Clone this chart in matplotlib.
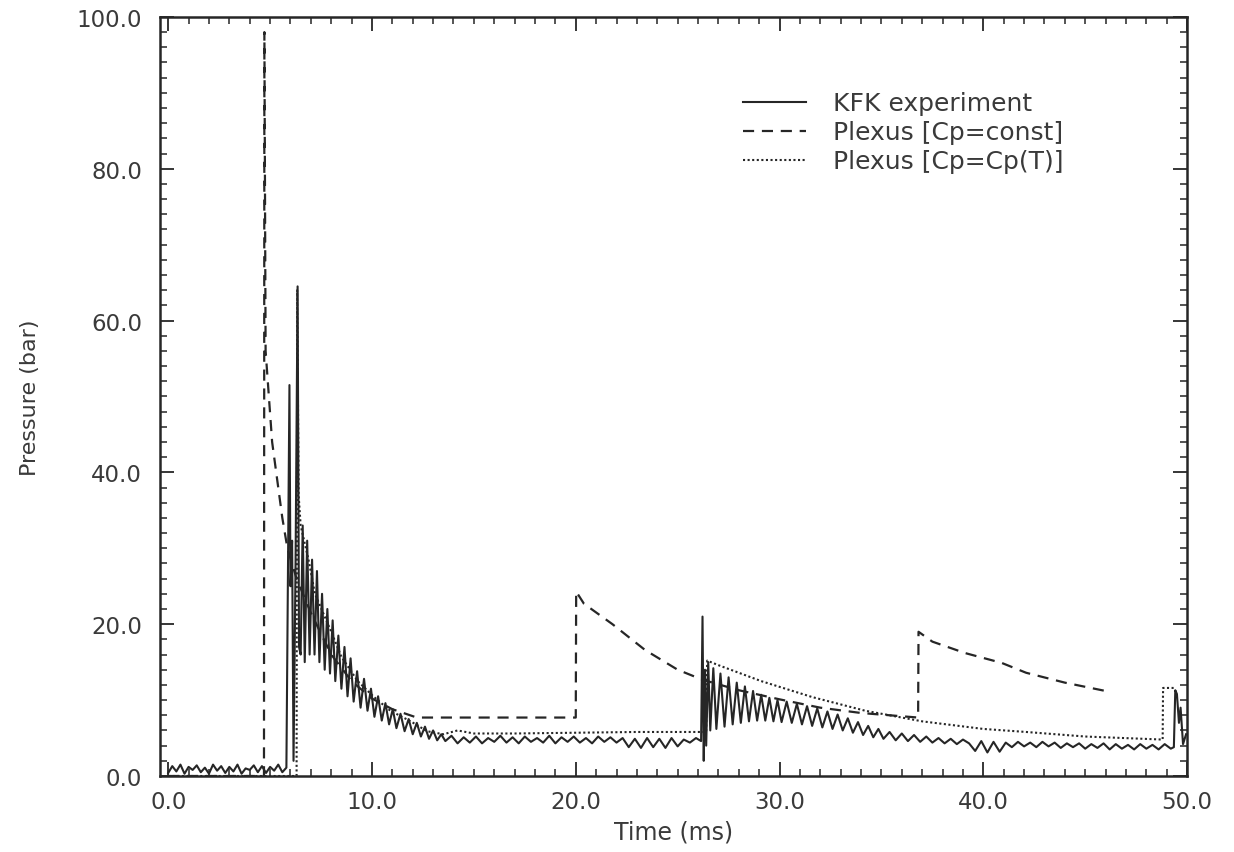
import matplotlib
matplotlib.use("Agg")
import matplotlib.pyplot as plt
from matplotlib.ticker import MultipleLocator, FormatStrFormatter

plt.rcParams["font.family"] = ["DejaVu Sans"]

INK = "#262626"

# ---------------------------------------------------------------
# KFK experiment (measured pressure, bar) vs time (ms)
# ---------------------------------------------------------------
kfk_t = [0.0, 0.2, 0.4, 0.6, 0.8, 1.0, 1.2, 1.4, 1.6, 1.8, 2.0, 2.2, 2.4, 2.6, 2.8,
         3.0, 3.2, 3.4, 3.6, 3.8, 4.0, 4.2, 4.4, 4.6, 4.8, 5.0, 5.2, 5.4, 5.6, 5.8,
         5.95, 6.0, 6.08, 6.15, 6.25, 6.35, 6.42,
         6.5, 6.6, 6.7, 6.82, 6.94, 7.06, 7.18, 7.3, 7.42, 7.55, 7.68, 7.81, 7.94,
         8.07, 8.2, 8.35, 8.5, 8.65, 8.8, 8.95, 9.1, 9.27, 9.44, 9.61, 9.78, 9.95,
         10.12, 10.3, 10.48, 10.66, 10.84, 11.02, 11.2, 11.4, 11.6, 11.8, 12.0,
         12.2, 12.4, 12.6, 12.8, 13.0, 13.2, 13.4,
         13.6, 13.9, 14.2, 14.5, 14.8, 15.1, 15.4, 15.7, 16.0, 16.3, 16.6, 16.9,
         17.2, 17.5, 17.8, 18.1, 18.4, 18.7, 19.0, 19.3, 19.6, 19.9, 20.2, 20.5,
         20.8, 21.1, 21.4, 21.7, 22.0, 22.3, 22.6, 22.9, 23.2, 23.5, 23.8, 24.1,
         24.4, 24.7, 25.0, 25.3, 25.6, 25.9, 26.15,
         26.22, 26.28, 26.34, 26.4, 26.5, 26.6, 26.75, 26.9, 27.1, 27.3, 27.5, 27.7,
         27.9, 28.1, 28.3, 28.5, 28.7, 28.9, 29.1, 29.3, 29.5, 29.7, 29.9, 30.1,
         30.35, 30.6, 30.85, 31.1, 31.35, 31.6, 31.85, 32.1, 32.35, 32.6, 32.85,
         33.1, 33.35, 33.6, 33.85, 34.1, 34.35, 34.6, 34.85, 35.1, 35.4, 35.7,
         36.0, 36.3, 36.6, 36.9, 37.2,
         37.5, 37.8, 38.1, 38.4, 38.7, 39.0, 39.3, 39.6, 39.9, 40.2, 40.5, 40.8,
         41.1, 41.4, 41.7, 42.0, 42.3, 42.6, 42.9, 43.2, 43.5, 43.8, 44.1, 44.4,
         44.7, 45.0, 45.3, 45.6, 45.9, 46.2, 46.5, 46.8, 47.1, 47.4, 47.7, 48.0,
         48.3, 48.6, 48.9, 49.2,
         49.35, 49.42, 49.5, 49.6, 49.68, 49.8, 49.95]
kfk_p = [0.4, 1.3, 0.6, 1.5, 0.3, 1.2, 0.8, 1.4, 0.5, 1.1, 0.3, 1.5, 0.7, 1.3, 0.4,
         1.2, 0.6, 1.5, 0.3, 1.0, 0.8, 1.4, 0.5, 1.3, 0.4, 1.2, 0.7, 1.5, 0.5, 1.1,
         51.5, 25.0, 31.0, 2.0, 28.0, 64.5, 17.0,
         16.0, 33.0, 15.0, 31.0, 16.0, 28.5, 16.0, 27.0, 15.0, 24.0, 14.0, 22.0, 13.5,
         20.5, 12.5, 18.5, 11.5, 17.0, 10.5, 15.5, 9.8, 13.8, 9.0, 12.8, 8.6, 11.5,
         7.8, 10.5, 7.3, 9.6, 6.8, 8.8, 6.3, 8.2, 5.9, 7.5, 5.5,
         7.0, 5.2, 6.5, 4.9, 6.0, 4.7, 5.5,
         4.6, 5.3, 4.3, 5.1, 4.4, 5.2, 4.3, 5.0, 4.5, 5.3, 4.4, 5.1,
         4.3, 5.2, 4.5, 5.0, 4.4, 5.3, 4.3, 5.1, 4.5, 5.2, 4.4, 5.0,
         4.3, 5.2, 4.5, 5.1, 4.4, 5.0, 3.8, 4.9, 3.7, 5.0, 3.8, 4.9,
         3.7, 5.0, 3.9, 4.8, 4.4, 5.0, 4.6,
         21.0, 2.0, 14.0, 4.0, 15.0, 6.0, 14.2, 6.2, 13.5, 6.5, 13.0, 6.8,
         12.3, 7.0, 11.8, 7.2, 11.2, 7.3, 10.7, 7.3, 10.3, 7.2, 10.0, 7.1,
         9.8, 7.0, 9.5, 6.8, 9.2, 6.6, 8.9, 6.4, 8.5, 6.2, 8.1,
         6.0, 7.6, 5.7, 7.1, 5.4, 6.6, 5.1, 6.2, 4.9, 5.8, 4.7,
         5.6, 4.6, 5.4, 4.5, 5.2,
         4.4, 5.0, 4.3, 4.9, 4.2, 4.8, 4.3, 3.3, 4.6, 3.1, 4.5, 3.2,
         4.4, 3.8, 4.5, 3.9, 4.4, 3.8, 4.5, 3.9, 4.4, 3.7, 4.3, 3.8,
         4.3, 3.6, 4.2, 3.7, 4.3, 3.5, 4.2, 3.6, 4.1, 3.5, 4.2, 3.6,
         4.1, 3.5, 4.2, 3.6,
         3.8, 11.3, 10.8, 7.0, 9.0, 4.2, 5.5]

# ---------------------------------------------------------------
# Plexus simulation, Cp = const
# ---------------------------------------------------------------
const_t = [0.0, 4.7, 4.72, 4.78, 5.1, 5.6, 5.85, 6.3, 7.0, 8.0, 9.0, 10.0, 11.0,
           12.2, 20.0, 20.02, 20.4, 21.8, 23.4, 25.0, 26.2, 28.0, 30.0, 32.0,
           34.0, 36.8, 36.82, 37.5, 39.1, 40.9, 42.1, 44.0, 46.0]
const_p = [0.0, 0.0, 98.0, 56.0, 44.0, 34.0, 30.0, 26.0, 21.5, 16.0, 12.5, 10.2,
           8.8, 7.7, 7.7, 24.3, 22.7, 20.0, 16.6, 14.0, 12.7, 11.3, 10.1, 9.0,
           8.3, 7.7, 19.0, 17.7, 16.2, 14.9, 13.6, 12.3, 11.2]

# ---------------------------------------------------------------
# Plexus simulation, Cp = Cp(T)
# ---------------------------------------------------------------
cpt_t = [0.0, 6.3, 6.33, 6.4, 6.5, 6.9, 7.2, 8.0, 8.5, 9.3, 10.1, 10.9, 11.9,
         12.7, 13.5, 14.2, 15.0, 17.0, 20.0, 23.0, 26.4, 26.45, 27.0, 29.1, 31.6,
         34.2, 37.0, 40.0, 42.1, 45.0, 48.8, 48.82, 49.45]
cpt_p = [0.0, 0.0, 64.0, 37.0, 33.0, 28.3, 24.0, 19.0, 15.7, 12.5, 10.4, 8.6, 7.2,
         5.9, 5.5, 6.0, 5.6, 5.6, 5.7, 5.8, 5.8, 15.2, 14.6, 12.5, 10.4,
         8.6, 7.2, 6.2, 5.8, 5.2, 4.8, 11.6, 11.6]

fig = plt.figure(figsize=(12.34, 8.53), dpi=100)
ax = fig.add_axes([0.1297, 0.0891, 0.8323, 0.8899])

ax.plot(kfk_t, kfk_p, color=INK, lw=1.5, label="KFK experiment")
ax.plot(const_t, const_p, color=INK, lw=1.6, ls=(0, (5, 3.5)),
        label="Plexus [Cp=const]")
ax.plot(cpt_t, cpt_p, color=INK, lw=1.5, ls=(0, (1, 1.2)),
        label="Plexus [Cp=Cp(T)]")

ax.set_xlim(-0.4, 50)
ax.set_ylim(0, 100)
ax.xaxis.set_major_locator(MultipleLocator(10))
ax.xaxis.set_minor_locator(MultipleLocator(1))
ax.yaxis.set_major_locator(MultipleLocator(20))
ax.yaxis.set_minor_locator(MultipleLocator(2))
ax.xaxis.set_major_formatter(FormatStrFormatter("%.1f"))
ax.yaxis.set_major_formatter(FormatStrFormatter("%.1f"))
ax.tick_params(which="both", direction="in", top=True, right=True,
               color=INK, labelcolor="#3a3a3a", labelsize=16.5)
ax.tick_params(which="major", length=10, width=1.3)
ax.tick_params(which="minor", length=5, width=1.1)
ax.tick_params(axis="y", pad=13)
ax.tick_params(axis="x", pad=10)
for s in ax.spines.values():
    s.set_linewidth(1.8)
    s.set_color(INK)

ax.set_xlabel("Time (ms)", fontsize=17, color="#3a3a3a", labelpad=5)
ax.set_ylabel("Pressure (bar)", fontsize=16, color="#3a3a3a", labelpad=26)

leg = ax.legend(loc="upper left", bbox_to_anchor=(0.558, 0.915), frameon=False,
                fontsize=18, handlelength=2.5, handletextpad=1.1,
                labelspacing=0.2, borderaxespad=0)
for t in leg.get_texts():
    t.set_color("#3a3a3a")

fig.savefig("out.png", dpi=100)
